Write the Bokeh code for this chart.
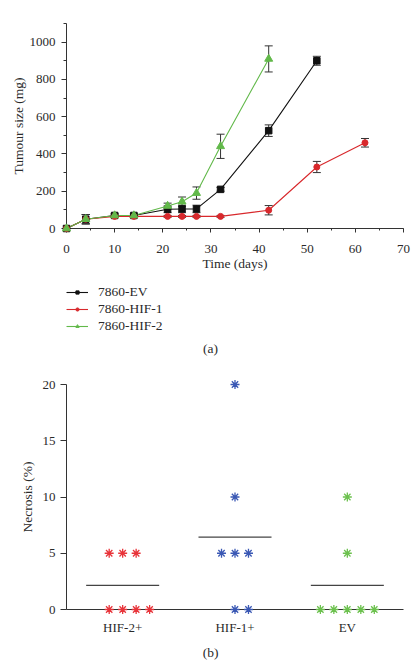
from bokeh.plotting import figure
from bokeh.layouts import column
from bokeh.models import (ColumnDataSource, Whisker, TeeHead, Legend, LegendItem,
                          Label, SingleIntervalTicker, FixedTicker, Range1d)
from bokeh.embed import file_html
from bokeh.resources import INLINE

# ---------------- data (a) ----------------
days_ev = [0, 4, 10, 14, 21, 24, 27, 32, 42, 52]
size_ev = [0, 50, 70, 70, 103, 105, 105, 210, 525, 900]
err_ev = [0, 25, 8, 8, 18, 20, 20, 10, 31, 24]

days_hif1 = [0, 4, 10, 14, 21, 24, 27, 32, 42, 52, 62]
size_hif1 = [0, 50, 65, 65, 65, 65, 65, 65, 98, 330, 460]
err_hif1 = [0, 25, 5, 5, 5, 5, 5, 5, 25, 30, 23]

days_hif2 = [0, 4, 10, 14, 21, 24, 27, 32, 42]
size_hif2 = [0, 50, 70, 70, 121, 144, 190, 441, 910]
err_hif2 = [0, 25, 8, 8, 15, 25, 33, 65, 70]

# ---------------- data (b) ----------------
groups = ["HIF-2+", "HIF-1+", "EV"]
necrosis_hif2 = [5, 5, 5, 0, 0, 0, 0]
slot_hif2 = [-1, 0, 1, -1, 0, 1, 2]
necrosis_hif1 = [20, 10, 5, 5, 5, 0, 0]
slot_hif1 = [0, 0, -1, 0, 1, 0, 1]
necrosis_ev = [10, 5, 0, 0, 0, 0, 0]
slot_ev = [0, 0, -2, -1, 0, 1, 2]

FONT = "Liberation Serif"
AX = "#333333"
TXT = "#2a2a2a"
W = 413


def style_axes(p):
    p.outline_line_color = None
    p.xgrid.grid_line_color = None
    p.ygrid.grid_line_color = None
    for ax in list(p.xaxis) + list(p.yaxis):
        ax.axis_line_color = AX
        ax.major_tick_line_color = AX
        ax.minor_tick_line_color = AX
        ax.major_tick_in = 0
        ax.minor_tick_in = 0
        ax.major_label_text_font = FONT
        ax.major_label_text_font_size = "13px"
        ax.major_label_text_color = TXT
        ax.axis_label_text_font = FONT
        ax.axis_label_text_font_size = "13.5px"
        ax.axis_label_text_font_style = "normal"
        ax.axis_label_text_color = TXT


def blank(height):
    f = figure(width=W, height=height, output_backend="svg", toolbar_location=None,
               x_range=Range1d(-2000, -1999), y_range=Range1d(-2000, -1999),
               x_axis_location=None, y_axis_location=None,
               min_border_left=0, min_border_right=0, min_border_top=0,
               min_border_bottom=0)
    f.outline_line_color = None
    f.xgrid.grid_line_color = None
    f.ygrid.grid_line_color = None
    return f


# ================= panel (a) =================
p1 = figure(width=W, height=275, output_backend="svg", toolbar_location=None,
            x_range=Range1d(0, 70), y_range=Range1d(0, 1100),
            min_border_left=66, min_border_right=W - 66 - 339, min_border_top=23,
            min_border_bottom=47)
style_axes(p1)
p1.xaxis.ticker = SingleIntervalTicker(interval=10, num_minor_ticks=2)
p1.yaxis.ticker = SingleIntervalTicker(interval=200, num_minor_ticks=2)
p1.xaxis.major_tick_out = 4
p1.xaxis.minor_tick_out = 2
p1.yaxis.major_tick_out = 5
p1.yaxis.minor_tick_out = 3
p1.xaxis.major_label_standoff = 12
p1.yaxis.major_label_standoff = 6
p1.xaxis.axis_label = "Time (days)"
p1.yaxis.axis_label = "Tumour size (mg)"
p1.xaxis.axis_label_standoff = 0
p1.yaxis.axis_label_standoff = 1

# legend holder (its ranges show none of the data; only the legend is seen)
pm = blank(95)

series = [
    ("7860-EV", days_ev, size_ev, err_ev, "#111111", "square", 6.5),
    ("7860-HIF-1", days_hif1, size_hif1, err_hif1, "#d8282c", "circle", 6),
    ("7860-HIF-2", days_hif2, size_hif2, err_hif2, "#62b94a", "triangle", 8),
]
items = []
for name, xs, ys, es, col, mk, sz in series:
    src = ColumnDataSource(dict(x=xs, y=ys,
                                lo=[a - b for a, b in zip(ys, es)],
                                hi=[a + b for a, b in zip(ys, es)]))
    w = Whisker(base="x", lower="lo", upper="hi", source=src, line_color="#333333",
                line_width=1,
                lower_head=TeeHead(size=8, line_color="#333333", line_width=1),
                upper_head=TeeHead(size=8, line_color="#333333", line_width=1))
    p1.add_layout(w)
    p1.line("x", "y", source=src, line_color=col, line_width=1.1)
    p1.scatter("x", "y", source=src, marker=mk, size=sz, fill_color=col,
               line_color=col, level="overlay")
    lg_l = pm.line("x", "y", source=src, line_color=col, line_width=1.1)
    lg_s = pm.scatter("x", "y", source=src, marker=mk, size=sz - 1.5,
                      fill_color=col, line_color=col)
    items.append(LegendItem(label=name, renderers=[lg_l, lg_s]))

legend = Legend(items=items, location=(0, 36), padding=0, margin=0, spacing=0,
                glyph_width=22, glyph_height=8, label_height=17, label_standoff=10,
                border_line_color=None, background_fill_alpha=0,
                label_text_font=FONT, label_text_font_size="13.5px",
                label_text_color=TXT)
pm.add_layout(legend)
pm.add_layout(Label(x=210 - 66, y=22, x_units="screen", y_units="screen", text="(a)",
                    text_align="center", text_baseline="middle", text_font=FONT,
                    text_font_size="13.5px", text_color=TXT))

# ================= panel (b) =================
p2 = figure(width=W, height=271, output_backend="svg", toolbar_location=None,
            x_range=Range1d(0, 3), y_range=Range1d(0, 20),
            min_border_left=66, min_border_right=W - 66 - 337, min_border_top=14,
            min_border_bottom=32)
style_axes(p2)
p2.xaxis.ticker = FixedTicker(ticks=[0.5, 1.5, 2.5])
p2.xaxis.major_label_overrides = {0.5: groups[0], 1.5: groups[1], 2.5: groups[2]}
p2.xaxis.major_tick_out = 2
p2.xaxis.minor_tick_out = 0
p2.yaxis.ticker = FixedTicker(ticks=[0, 5, 10, 15, 20])
p2.yaxis.major_tick_out = 6
p2.yaxis.minor_tick_out = 0
p2.xaxis.major_label_standoff = 8
p2.yaxis.major_label_standoff = 5
p2.yaxis.axis_label = "Necrosis (%)"
p2.yaxis.axis_label_standoff = 5

step = 0.12
half = 0.325
gdata = [(necrosis_hif2, slot_hif2, "#e8343a"),
         (necrosis_hif1, slot_hif1, "#3a58b4"),
         (necrosis_ev, slot_ev, "#6cc14e")]
mx0, mx1, my = [], [], []
for i, (vals, slots, col) in enumerate(gdata):
    c = i + 0.5
    xs = [c + s * step for s in slots]
    p2.scatter(xs, vals, marker="asterisk", size=9, line_color=col, line_width=1.3,
               level="overlay")
    m = sum(vals) / len(vals)
    mx0.append(c - half)
    mx1.append(c + half)
    my.append(m)
p2.segment(x0=mx0, y0=my, x1=mx1, y1=my, line_color="#444444", line_width=1.2)

pb = blank(28)
pb.add_layout(Label(x=210 - 66, y=17, x_units="screen", y_units="screen", text="(b)",
                    text_align="center", text_baseline="middle", text_font=FONT,
                    text_font_size="13.5px", text_color=TXT))

layout = column(p1, pm, p2, pb, spacing=0)
open("out.html", "w").write(file_html(layout, INLINE))
